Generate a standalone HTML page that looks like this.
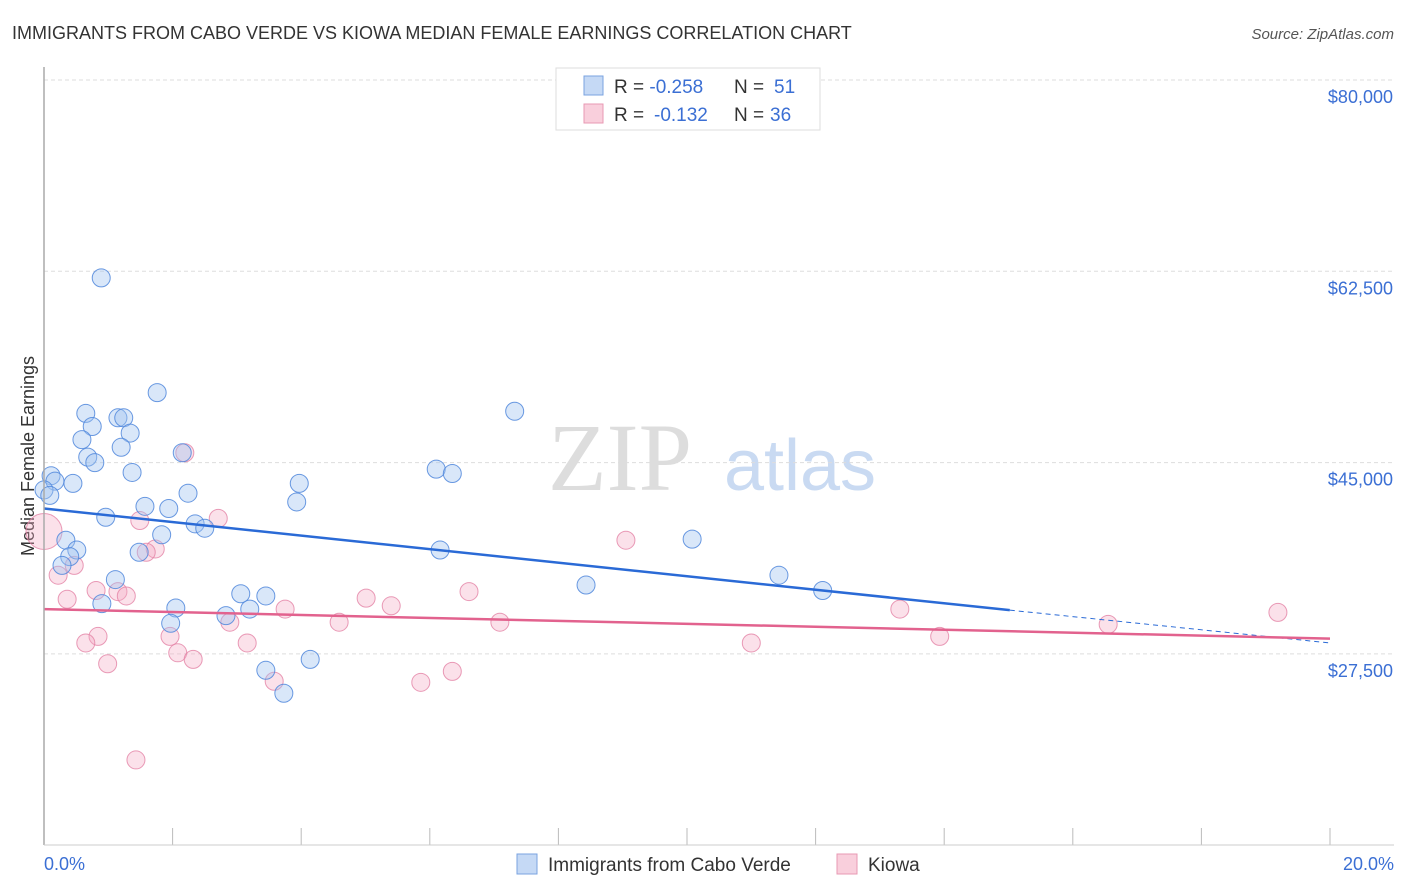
<!DOCTYPE html>
<html><head><meta charset="utf-8"><style>
body{margin:0;background:#fff;width:1406px;height:892px;overflow:hidden;font-family:"Liberation Sans",sans-serif}
svg{display:block}
</style></head><body>
<svg id="chart" width="1406" height="892">
<text x="12" y="39" font-size="18" fill="#333">IMMIGRANTS FROM CABO VERDE VS KIOWA MEDIAN FEMALE EARNINGS CORRELATION CHART</text>
<text x="1394" y="39" font-size="15" fill="#555" font-style="italic" text-anchor="end">Source: ZipAtlas.com</text>
<text x="620" y="490" font-size="96" fill="#ddd" font-family="Liberation Serif,serif" text-anchor="middle">ZIP</text>
<text x="800" y="490" font-size="72" fill="#c9daf2" text-anchor="middle">atlas</text>
<text transform="translate(34,456) rotate(-90)" font-size="18" fill="#333" text-anchor="middle">Median Female Earnings</text>
<g id="grid"></g><g id="pts"></g><g id="trend"></g>
<line x1="44" y1="67" x2="44" y2="845" stroke="#aaa" stroke-width="1.5"/>
<line x1="44" y1="845" x2="1394" y2="845" stroke="#ccc"/>
<text x="44" y="870" font-size="18" fill="#3b6fd4">0.0%</text>
<text x="1394" y="870" font-size="18" fill="#3b6fd4" text-anchor="end">20.0%</text>
<g>
<rect x="556" y="68" width="264" height="62" fill="#fff" stroke="#ddd"/>
<rect x="584" y="76" width="19" height="19" fill="#c5d9f5" stroke="#7aa3e0"/>
<rect x="584" y="104" width="19" height="19" fill="#f9cfdc" stroke="#e899b3"/>
<text x="614" y="93" font-size="19" fill="#333">R = <tspan fill="#3b6fd4">-0.258</tspan><tspan x="734">N = </tspan><tspan fill="#3b6fd4" x="774">51</tspan></text>
<text x="614" y="121" font-size="19" fill="#333">R = <tspan fill="#3b6fd4" x="654">-0.132</tspan><tspan x="734">N = </tspan><tspan fill="#3b6fd4" x="770">36</tspan></text>
</g>
<g>
<rect x="517" y="854" width="20" height="20" fill="#c5d9f5" stroke="#7aa3e0"/>
<text x="548" y="871" font-size="19" fill="#333">Immigrants from Cabo Verde</text>
<rect x="837" y="854" width="20" height="20" fill="#f9cfdc" stroke="#e899b3"/>
<text x="868" y="871" font-size="19" fill="#333">Kiowa</text>
</g>
</svg>
<script>
const yTicks=[80000,62500,45000,27500];
const yTickLabels=["$80,000","$62,500","$45,000","$27,500"];
const xTicks=[0,2,4,6,8,10,12,14,16,18,20];
const blueX=[0.89,1.76,7.32,0.65,0.75,1.15,1.24,1.34,0.59,1.2,2.15,0.68,0.79,6.1,6.35,1.37,0.11,0.17,0.45,3.97,2.24,1.57,1.94,3.93,0.96,2.35,2.5,1.83,0.0,0.09,0.34,0.51,1.48,6.16,10.08,0.4,0.28,1.11,3.06,3.45,8.43,11.43,12.11,2.05,3.2,2.83,0.9,1.97,3.45,4.14,3.73];
const blueY=[61.9,51.4,49.7,49.5,48.3,49.1,49.1,47.7,47.1,46.4,45.9,45.5,45.0,44.4,44.0,44.1,43.8,43.3,43.1,43.1,42.2,41.0,40.8,41.4,40.0,39.4,39.0,38.4,42.5,42.0,37.9,37.0,36.8,37.0,38.0,36.4,35.6,34.3,33.0,32.8,33.8,34.7,33.3,31.7,31.6,31.0,32.1,30.3,26.0,27.0,23.9];
const pinkX=[2.19,2.71,1.49,1.73,1.59,0.22,0.47,0.36,0.81,1.15,1.28,9.05,1.96,0.84,0.65,0.99,2.08,2.32,2.89,3.16,3.75,4.59,5.01,5.4,6.61,7.09,6.35,5.86,3.58,1.43,11.0,13.31,13.93,16.55,19.19,0.0];
const pinkY=[45.9,39.9,39.7,37.1,36.8,34.7,35.6,32.5,33.3,33.2,32.8,37.9,29.1,29.1,28.5,26.6,27.6,27.0,30.4,28.5,31.6,30.4,32.6,31.9,33.2,30.4,25.9,24.9,25.0,17.8,28.5,31.6,29.1,30.2,31.3,38.7];
const blueTrendX=[0,15.02,20];const blueTrendY=[40.8,31.5,28.5];
const pinkTrendX=[0,20];const pinkTrendY=[31.6,28.9];
const NS="http://www.w3.org/2000/svg";
const xs=v=>44+v/20*1286;
const ys=v=>80+(80000-v)/17500*191.3;
function mk(t,a,p){const e=document.createElementNS(NS,t);for(const k in a)e.setAttribute(k,a[k]);p.appendChild(e);return e;}
const grid=document.getElementById('grid');
yTicks.forEach((v,i)=>{
 const l=mk('line',{x1:44,x2:1394,y1:ys(v),y2:ys(v),stroke:'#ddd','stroke-dasharray':'4,3'},grid);
 
 
 const t=mk('text',{x:1393,y:ys(v)+23,'font-size':18,fill:'#3b6fd4','text-anchor':'end'},grid);
 t.textContent=yTickLabels[i];
 
 
});
xTicks.forEach(v=>{
 const l=mk('line',{x1:xs(v),x2:xs(v),y1:828,y2:845,stroke:'#bbb'},grid);
 
 
});
const pts=document.getElementById('pts');
pinkX.forEach((x,i)=>{
 const big=i===pinkX.length-1;
 const c=mk('circle',{cx:xs(x),cy:ys(pinkY[i]*1000),r:big?18:9,fill:'rgba(244,170,195,0.35)',stroke:'rgba(228,130,165,0.8)','stroke-width':1},pts);
 
 
});
blueX.forEach((x,i)=>{
 const c=mk('circle',{cx:xs(x),cy:ys(blueY[i]*1000),r:9,fill:'rgba(160,195,240,0.4)',stroke:'rgba(80,135,220,0.85)','stroke-width':1},pts);
 
 
});
const tr=document.getElementById('trend');
let l=mk('line',{x1:xs(blueTrendX[0]),y1:ys(blueTrendY[0]*1000),x2:xs(blueTrendX[1]),y2:ys(blueTrendY[1]*1000),stroke:'#2a6ad6','stroke-width':2.5},tr);


l=mk('line',{x1:xs(blueTrendX[1]),y1:ys(blueTrendY[1]*1000),x2:xs(blueTrendX[2]),y2:ys(blueTrendY[2]*1000),stroke:'#2a6ad6','stroke-width':1,'stroke-dasharray':'5,4'},tr);


l=mk('line',{x1:xs(pinkTrendX[0]),y1:ys(pinkTrendY[0]*1000),x2:xs(pinkTrendX[1]),y2:ys(pinkTrendY[1]*1000),stroke:'#e2628e','stroke-width':2.5},tr);


</script>
</body></html>
